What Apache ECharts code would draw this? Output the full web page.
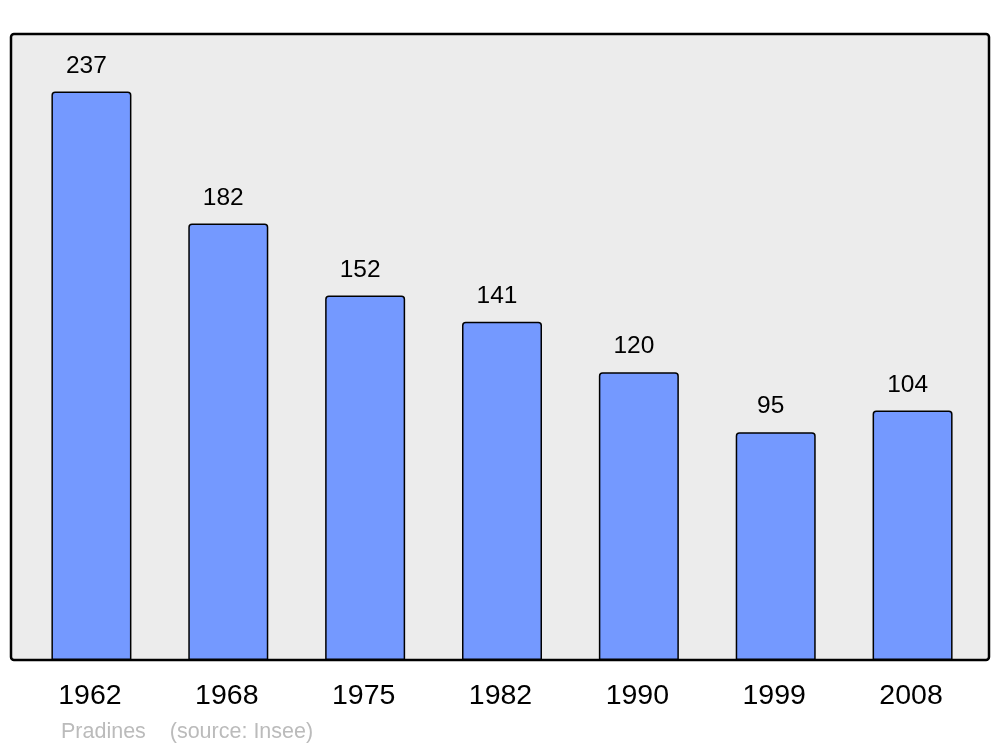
<!DOCTYPE html>
<html><head><meta charset="utf-8">
<script src="https://cdn.jsdelivr.net/npm/echarts@6/dist/echarts.min.js"></script>
<style>html,body{margin:0;padding:0;background:#fff}#c{width:1000px;height:747px}</style>
</head><body><div id="c"></div>
<script>
const years = ['1962','1968','1975','1982','1990','1999','2008'];
const population = [237,182,152,141,120,95,104];
const sourceText = 'Pradines    (source: Insee)';

const chart = echarts.init(document.getElementById('c'), null, {renderer:'canvas'});
chart.setOption({
  animation: false,
  backgroundColor: '#ffffff',
  grid: {left: 23, right: 19, top: 34, bottom: 87},
  graphic: [
    {type:'rect', z:-10, shape:{x:11, y:34, width:978, height:626, r:3},
     style:{fill:'#ececec', stroke:'#000', lineWidth:2.5}},
    {type:'text', left:61, top:721, style:{text:sourceText, fill:'#bbbbbb', font:'21.5px "Liberation Sans", Arial, sans-serif'}}
  ],
  xAxis: {
    type:'category', data: years,
    axisLine:{show:false}, axisTick:{show:false},
    axisLabel:{color:'#000', fontSize:28.5, fontFamily:'"Liberation Sans", Arial, sans-serif', margin:22, padding:[0,3,0,0]}
  },
  yAxis: {
    type:'value', min:0, max:261,
    show:false, splitLine:{show:false}
  },
  series: [{
    type:'bar', data: population, barWidth:80,
    itemStyle:{color:'#7499ff', borderColor:'#000', borderWidth:1.5, borderRadius:[3,3,0,0]},
    label:{show:true, position:'top', distance:13, offset:[-5,0], color:'#000', fontSize:24.5,
      fontFamily:'"Liberation Sans", Arial, sans-serif'}
  }]
});
</script></body></html>
